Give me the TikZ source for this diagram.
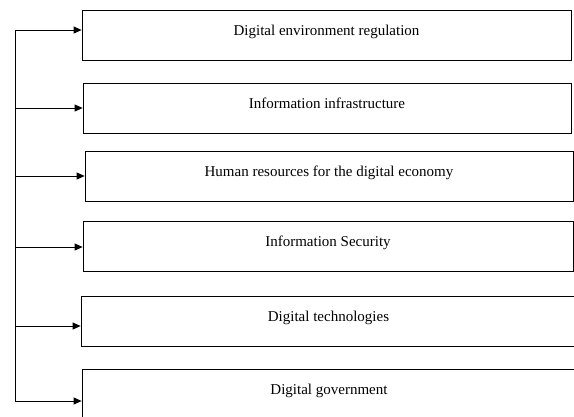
\documentclass[tikz,border=0pt]{standalone}
\usepackage{fontspec}
\setmainfont{Liberation Serif}
\usepackage{tikz}
\usetikzlibrary{arrows.meta,positioning}

\begin{document}
\begin{tikzpicture}[x=1pt,y=-1pt,
    itembox/.style={draw,line width=0.8pt,rectangle,inner sep=0pt,
        minimum height=50pt,text height=25pt,text depth=25pt,
        font=\fontsize{15}{18}\selectfont},
    feed/.style={line width=0.8pt,-{Triangle[length=8pt,width=7pt]}}]
    % Page frame
    \clip (0,0) rectangle (574,416);

    % Component boxes
    \node[itembox,minimum width=489pt] (b1) at (326.5,35) {Digital environment regulation};
    \node[itembox,minimum width=488pt] (b2) at (327,108) {Information infrastructure};
    \node[itembox,minimum width=488pt] (b3) at (329,176) {Human resources for the digital economy};
    \node[itembox,minimum width=490pt] (b4) at (328,246) {Information Security};
    \node[itembox,minimum width=495pt] (b5) at (328.5,321) {Digital technologies};
    \node[itembox,minimum width=494pt] (b6) at (329,394) {Digital government};

    % Trunk points
    \coordinate (t1) at (15,30);
    \coordinate (t2) at (15,108);
    \coordinate (t3) at (15,176);
    \coordinate (t4) at (15,247);
    \coordinate (t5) at (15,326);
    \coordinate (t6) at (15,401);

    % Trunk line
    \draw[line width=0.8pt] (t1) -- (t6);

    % Branches
    \foreach \i in {1,...,6} {
        \draw[feed] (t\i) -- (t\i -| b\i.west);
    }
\end{tikzpicture}
\end{document}
